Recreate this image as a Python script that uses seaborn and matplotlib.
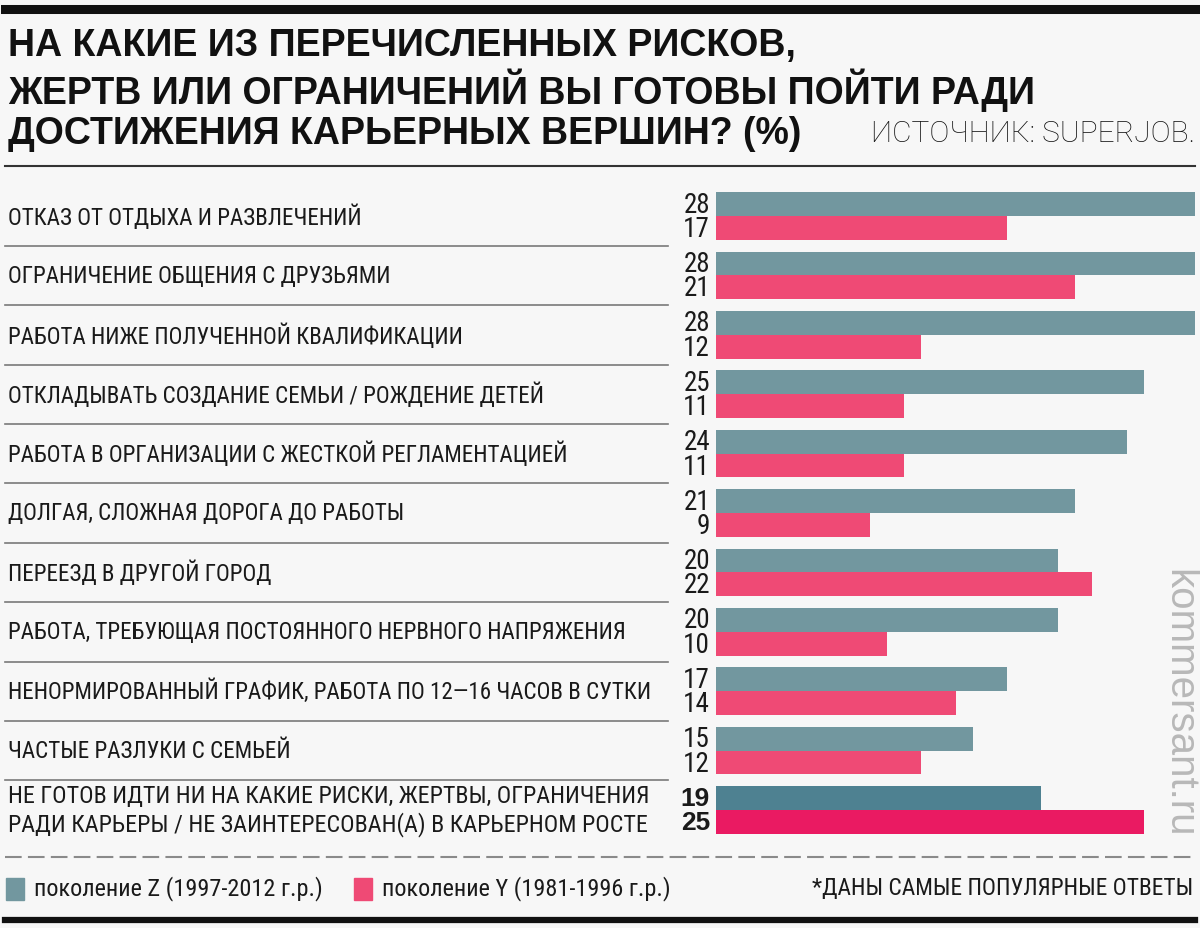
import matplotlib
matplotlib.use("Agg")
import matplotlib.pyplot as plt
from matplotlib.patches import Rectangle
from matplotlib.transforms import blended_transform_factory
import pandas as pd
import seaborn as sns

# data
labels = [
    "ОТКАЗ ОТ ОТДЫХА И РАЗВЛЕЧЕНИЙ",
    "ОГРАНИЧЕНИЕ ОБЩЕНИЯ С ДРУЗЬЯМИ",
    "РАБОТА НИЖЕ ПОЛУЧЕННОЙ КВАЛИФИКАЦИИ",
    "ОТКЛАДЫВАТЬ СОЗДАНИЕ СЕМЬИ / РОЖДЕНИЕ ДЕТЕЙ",
    "РАБОТА В ОРГАНИЗАЦИИ С ЖЕСТКОЙ РЕГЛАМЕНТАЦИЕЙ",
    "ДОЛГАЯ, СЛОЖНАЯ ДОРОГА ДО РАБОТЫ",
    "ПЕРЕЕЗД В ДРУГОЙ ГОРОД",
    "РАБОТА, ТРЕБУЮЩАЯ ПОСТОЯННОГО НЕРВНОГО НАПРЯЖЕНИЯ",
    "НЕНОРМИРОВАННЫЙ ГРАФИК, РАБОТА ПО 12—16 ЧАСОВ В СУТКИ",
    "ЧАСТЫЕ РАЗЛУКИ С СЕМЬЕЙ",
    "НЕ ГОТОВ ИДТИ НИ НА КАКИЕ РИСКИ, ЖЕРТВЫ, ОГРАНИЧЕНИЯ\nРАДИ КАРЬЕРЫ / НЕ ЗАИНТЕРЕСОВАН(А) В КАРЬЕРНОМ РОСТЕ",
]
gen_z = [28, 28, 28, 25, 24, 21, 20, 20, 17, 15, 19]
gen_y = [17, 21, 12, 11, 11, 9, 22, 10, 14, 12, 25]
series = ["поколение Z (1997-2012 г.р.)", "поколение Y (1981-1996 г.р.)"]

title_lines = [
    "НА КАКИЕ ИЗ ПЕРЕЧИСЛЕННЫХ РИСКОВ,",
    "ЖЕРТВ ИЛИ ОГРАНИЧЕНИЙ ВЫ ГОТОВЫ ПОЙТИ РАДИ",
    "ДОСТИЖЕНИЯ КАРЬЕРНЫХ ВЕРШИН? (%)",
]
source = "ИСТОЧНИК: SUPERJOB."
footnote = "*ДАНЫ САМЫЕ ПОПУЛЯРНЫЕ ОТВЕТЫ"
watermark = "kommersant.ru"

TEAL = "#72979f"
PINK = "#ef4a75"
TEAL_DARK = "#4e8191"
PINK_DARK = "#ea1a62"
BG = "#f7f7f7"

NARROW = ["Liberation Sans Narrow", "Roboto Condensed", "DejaVu Sans Condensed", "Liberation Sans"]
BOLD = ["Liberation Sans", "DejaVu Sans"]

df = pd.DataFrame({
    "label": labels * 2,
    "gen": [series[0]] * len(labels) + [series[1]] * len(labels),
    "value": gen_z + gen_y,
})

W, H = 1200, 929
fig = plt.figure(figsize=(W / 100, H / 100), dpi=100, facecolor=BG)

def fx(px):
    return px / W

def fy(py):
    return 1 - py / H

ax = fig.add_axes([fx(716), fy(840.7), fx(1195) - fx(716), (840.7 - 187.3) / H])
ax.set_facecolor(BG)
sns.barplot(data=df, y="label", x="value", hue="gen", orient="h",
            palette=[TEAL, PINK], width=0.8, saturation=1, legend=False,
            ax=ax, errorbar=None)
ax.set_xlim(0, 28)
ax.set_ylim(len(labels) - 0.5, -0.5)
ax.axis("off")

# last row uses stronger colours
last = len(labels) - 1
ax.containers[0][last].set_facecolor(TEAL_DARK)
ax.containers[1][last].set_facecolor(PINK_DARK)

fig_x_data_y = blended_transform_factory(fig.transFigure, ax.transData)

for i, lab in enumerate(labels):
    bold = i == last
    ax.text(fx(8), i, lab, transform=fig_x_data_y, ha="left", va="center",
            fontsize=17.3 if bold else 16.6, family=NARROW, color="#1a1a1a",
            linespacing=1.2)
    kw = dict(ha="right", va="center", color="#1a1a1a", clip_on=False,
              fontsize=19 if bold else 19.5, family=BOLD if bold else NARROW,
              fontweight="bold" if bold else "normal")
    ax.text(-0.35, i - 0.2, str(gen_z[i]), **kw)
    ax.text(-0.35, i + 0.21, str(gen_y[i]), **kw)
    if i < last:
        ax.plot([fx(5), fx(668)], [i + 0.5, i + 0.5], transform=fig_x_data_y,
                color="#7a7a7a", lw=1.2, clip_on=False)

# title block
for k, line in enumerate(title_lines):
    fig.text(fx(8), fy(46 + k * 44), line, ha="left", va="center",
             fontsize=27, fontweight="bold", family=BOLD, color="#111111")
fig.text(fx(1195), fy(134), source, ha="right", va="center",
         fontsize=21.5, family=["Roboto", "Liberation Sans"], fontweight="light",
         color="#111111")

# rules
fig.add_artist(plt.Line2D([fx(5), fx(1195)], [fy(10), fy(10)], color="#111111", lw=6.5))
fig.add_artist(plt.Line2D([fx(5), fx(1195)], [fy(167), fy(167)], color="#333333", lw=1.5))
fig.add_artist(plt.Line2D([fx(5), fx(1195)], [fy(858), fy(858)], color="#8a8a8a",
                          lw=1.5, ls=(0, (8, 3))))
fig.add_artist(plt.Line2D([fx(5), fx(1195)], [fy(921), fy(921)], color="#111111", lw=4.5))

# legend
fig.add_artist(Rectangle((fx(6), fy(901)), fx(18), 22 / H, color=TEAL, transform=fig.transFigure))
fig.text(fx(34), fy(889), series[0], ha="left", va="center",
         fontsize=17.5, family=NARROW, color="#1a1a1a")
fig.add_artist(Rectangle((fx(354), fy(901)), fx(18), 22 / H, color=PINK, transform=fig.transFigure))
fig.text(fx(382), fy(889), series[1], ha="left", va="center",
         fontsize=17.5, family=NARROW, color="#1a1a1a")
fig.text(fx(1193), fy(889), footnote, ha="right", va="center",
         fontsize=16.8, family=NARROW, color="#1a1a1a")

fig.text(fx(1179), fy(703), watermark, ha="center", va="center", rotation=270,
         fontsize=29, family=["Liberation Sans", "DejaVu Sans"], color="#b8b8b8")

fig.savefig("out.png", dpi=100, facecolor=BG)
